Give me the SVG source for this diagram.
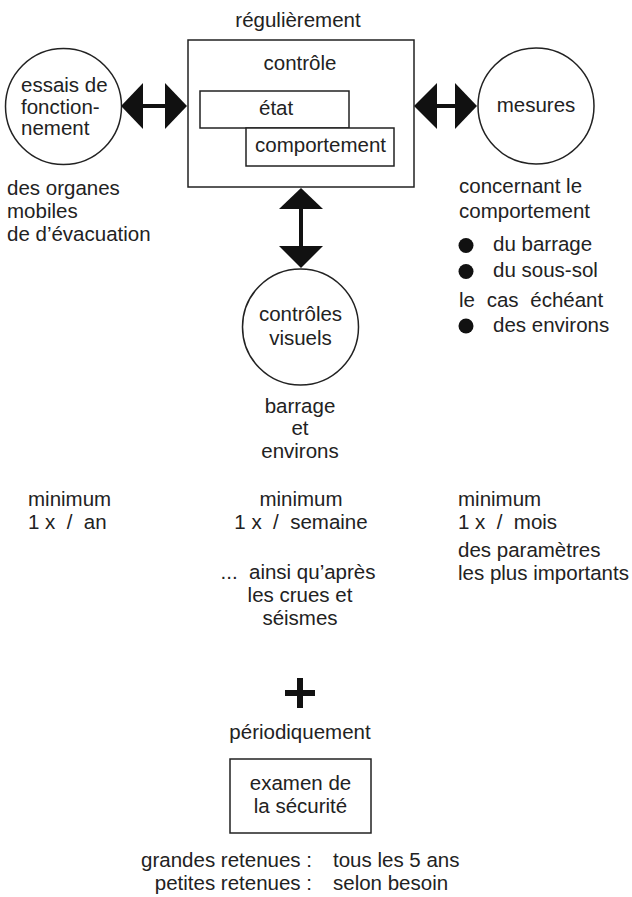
<svg xmlns="http://www.w3.org/2000/svg" width="632" height="897" viewBox="0 0 632 897">
  <style>
    text { font-family: "Liberation Sans", Arial, Helvetica, sans-serif; font-size: 20.5px; fill: #222; white-space: pre; }
    .c { text-anchor: middle; }
    .e { text-anchor: end; }
    .shape { fill: #fff; stroke: #222; stroke-width: 1.5; }
    .head { fill: #111; stroke: none; }
    .shaft { stroke: #111; stroke-width: 4; fill: none; }
  </style>

  <rect width="632" height="897" fill="#fff"/>

  <!-- central regular control box -->
  <g id="controle">
    <text class="c" x="298" y="27">régulièrement</text>
    <rect class="shape" x="188" y="40" width="226" height="147"/>
    <text class="c" x="300" y="70">contrôle</text>
    <rect class="shape" x="200" y="91" width="149" height="37"/>
    <text x="259" y="115">état</text>
    <rect class="shape" x="246" y="128" width="148" height="38"/>
    <text x="255" y="152">comportement</text>
  </g>

  <!-- functional tests -->
  <g id="essais">
    <circle class="shape" cx="63.5" cy="106.5" r="58"/>
    <text x="21" y="92">essais de</text>
    <text x="21" y="113.5">fonction-</text>
    <text x="21" y="135">nement</text>
    <text x="7" y="195">des organes</text>
    <text x="7" y="218">mobiles</text>
    <text x="7" y="241">de d’évacuation</text>
  </g>

  <!-- measurements -->
  <g id="mesures">
    <circle class="shape" cx="536" cy="106" r="58"/>
    <text class="c" x="536" y="112">mesures</text>
    <text x="459" y="193">concernant le</text>
    <text x="459" y="218">comportement</text>
    <circle cx="466" cy="245.5" r="7.5" fill="#111"/>
    <text x="493" y="251">du barrage</text>
    <circle cx="466" cy="271.5" r="7.5" fill="#111"/>
    <text x="493" y="277">du sous-sol</text>
    <text x="459" y="307" word-spacing="6">le cas échéant</text>
    <circle cx="466" cy="326" r="7.5" fill="#111"/>
    <text x="493" y="332">des environs</text>
  </g>

  <!-- visual inspections -->
  <g id="visuels">
    <circle class="shape" cx="300.5" cy="327" r="58"/>
    <text class="c" x="300.5" y="321">contrôles</text>
    <text class="c" x="300.5" y="345">visuels</text>
    <text class="c" x="300" y="413">barrage</text>
    <text class="c" x="300" y="435">et</text>
    <text class="c" x="300" y="458">environs</text>
  </g>

  <!-- frequencies -->
  <g id="frequences">
    <text x="28" y="506">minimum</text>
    <text x="28" y="529">1 x  /  an</text>
    <text class="c" x="301" y="506">minimum</text>
    <text class="c" x="301" y="529">1 x  /  semaine</text>
    <text class="c" x="298" y="579">...  ainsi qu’après</text>
    <text class="c" x="300" y="602">les crues et</text>
    <text class="c" x="300" y="625">séismes</text>
    <text x="458" y="506">minimum</text>
    <text x="458" y="529">1 x  /  mois</text>
    <text x="458" y="557">des paramètres</text>
    <text x="458" y="580">les plus importants</text>
  </g>

  <!-- periodic safety review -->
  <g id="examen">
    <path d="M285 693H315M300 678V708" stroke="#111" stroke-width="6" fill="none"/>
    <text class="c" x="300" y="739">périodiquement</text>
    <rect class="shape" x="230" y="759" width="141" height="74"/>
    <text class="c" x="300.5" y="790">examen de</text>
    <text class="c" x="300.5" y="813">la sécurité</text>
    <text class="e" x="312" y="867">grandes retenues :</text>
    <text x="333" y="867">tous les 5 ans</text>
    <text class="e" x="312" y="890">petites retenues :</text>
    <text x="333" y="890">selon besoin</text>
  </g>

  <!-- double-headed connectors -->
  <g id="connectors">
    <path class="shaft" d="M142 106H166"/>
    <path class="head" d="M121 106L143 83V129Z"/>
    <path class="head" d="M187 106L165 83V129Z"/>

    <path class="shaft" d="M436 106H456"/>
    <path class="head" d="M414 106L437 83V129Z"/>
    <path class="head" d="M477 106L455 83V129Z"/>

    <path class="shaft" d="M301 208V247"/>
    <path class="head" d="M301 188L279 209H323Z"/>
    <path class="head" d="M301 268L279 246H323Z"/>
  </g>
</svg>
